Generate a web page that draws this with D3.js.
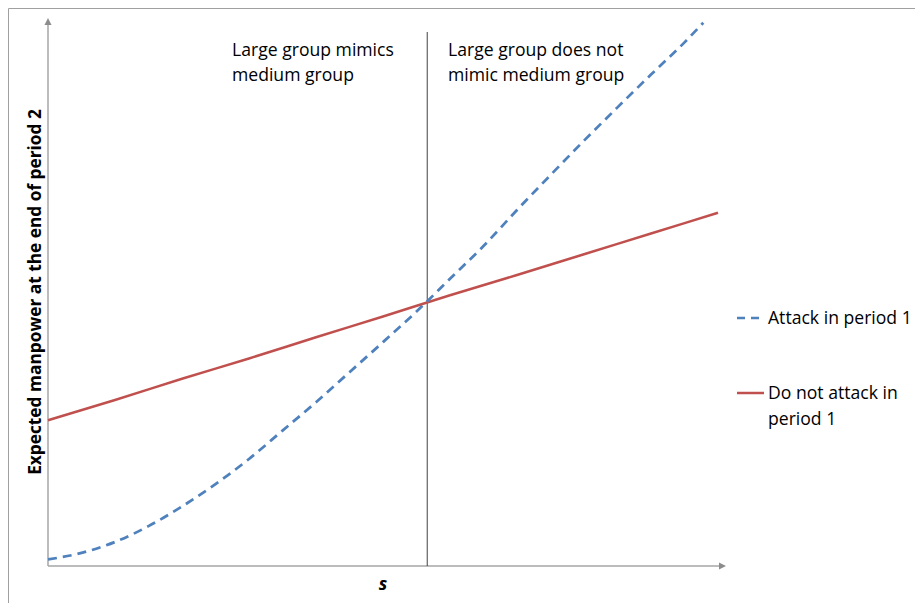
<!DOCTYPE html>
<html>
<head>
<meta charset="utf-8">
<title>Expected manpower</title>
<script src="https://d3js.org/d3.v7.min.js"></script>
<style>
  body { margin: 0; background: #fff; }
  svg text { font-family: "Open Sans", "Noto Sans", sans-serif; fill: #000; }
</style>
</head>
<body>
<script>
    // s values (share) and the two curves
    let sAttack = [0, 5, 10, 15, 20, 25, 30, 35, 40, 45, 50, 55, 60, 65, 70, 75, 80, 85, 90, 95, 97.8];
    let attack  = [1.2, 2.4, 4.4, 7.3, 10.9, 15.0, 19.6, 24.8, 30.0, 35.5, 41.0, 46.6, 52.6, 58.6, 65.2, 71.6, 77.9, 84.0, 90.0, 95.9, 99.5];

    let sNoAttack = [0, 10, 20, 30, 40, 50, 60, 70, 80, 90, 100];
    let noAttack  = [26.7, 30.4, 34.3, 38.0, 41.9, 45.7, 49.6, 53.3, 57.1, 60.9, 64.7];

    let threshold = 56.6;

    let regionLabels = [
        ["Large group mimics", "medium group"],
        ["Large group does not", "mimic medium group"]
    ];
    let legendLabels = [["Attack in period 1"], ["Do not attack in", "period 1"]];
    let colors = ["#4f81bd", "#c0504d"];

    let width = 915, height = 603;

    let svg = d3.select("body").append("svg")
        .attr("width", width)
        .attr("height", height);

    // outer frame
    svg.append("path")
        .attr("d", "M8.5," + height + "V8.5H" + width)
        .attr("fill", "none")
        .attr("stroke", "#a0a0a0")
        .attr("stroke-width", 1);

    let x = d3.scaleLinear().domain([0, 100]).range([48, 718]);
    let y = d3.scaleLinear().domain([0, 100]).range([566, 20]);

    // axes with arrows
    let axisColor = "#a6a6a6";
    svg.append("line")
        .attr("x1", x(0)).attr("x2", x(100) + 2)
        .attr("y1", y(0)).attr("y2", y(0))
        .attr("stroke", axisColor).attr("stroke-width", 1.5);
    svg.append("path")
        .attr("d", `M${x(100) + 8},${y(0)} l-7,-3.5 v7 z`)
        .attr("fill", "#8c8c8c");
    svg.append("line")
        .attr("x1", x(0)).attr("x2", x(0))
        .attr("y1", y(0)).attr("y2", y(100) + 2)
        .attr("stroke", axisColor).attr("stroke-width", 1.5);
    svg.append("path")
        .attr("d", `M${x(0)},${y(100) - 2} l-3.5,7 h7 z`)
        .attr("fill", "#8c8c8c");

    // divider
    svg.append("line")
        .attr("x1", x(threshold)).attr("x2", x(threshold))
        .attr("y1", 32).attr("y2", y(0))
        .attr("stroke", "#404040").attr("stroke-width", 1);

    let line = d3.line()
        .x(d => x(d[0]))
        .y(d => y(d[1]))
        .curve(d3.curveMonotoneX);

    svg.append("path")
        .datum(d3.zip(sNoAttack, noAttack))
        .attr("d", line)
        .attr("fill", "none")
        .attr("stroke", colors[1])
        .attr("stroke-width", 2.5);

    svg.append("path")
        .datum(d3.zip(sAttack, attack))
        .attr("d", line)
        .attr("fill", "none")
        .attr("stroke", colors[0])
        .attr("stroke-width", 2.75)
        .attr("stroke-dasharray", "9,6");

    // region labels
    let regionX = [232, 448];
    regionLabels.forEach((lines, i) => {
        lines.forEach((t, j) => {
            svg.append("text")
                .attr("x", regionX[i])
                .attr("y", 56 + j * 25)
                .attr("font-size", 17.6)
                .text(t);
        });
    });

    // axis titles
    svg.append("text")
        .attr("transform", "translate(41,292) rotate(-90)")
        .attr("text-anchor", "middle")
        .attr("font-size", 17.3)
        .attr("font-weight", "bold")
        .text("Expected manpower at the end of period 2");

    svg.append("text")
        .attr("x", 383)
        .attr("y", 590)
        .attr("text-anchor", "middle")
        .attr("font-size", 18)
        .attr("font-weight", "bold")
        .attr("font-style", "italic")
        .text("s");

    // legend
    let legendY = [318, 393];
    legendLabels.forEach((lines, i) => {
        svg.append("line")
            .attr("x1", 737).attr("x2", 764)
            .attr("y1", legendY[i]).attr("y2", legendY[i])
            .attr("stroke", colors[i])
            .attr("stroke-width", 2.5)
            .attr("stroke-dasharray", i === 0 ? "8,6" : null);
        lines.forEach((t, j) => {
            svg.append("text")
                .attr("x", 768)
                .attr("y", legendY[i] + 6 + j * 26)
                .attr("font-size", 17.6)
                .text(t);
        });
    });
</script>
</body>
</html>
